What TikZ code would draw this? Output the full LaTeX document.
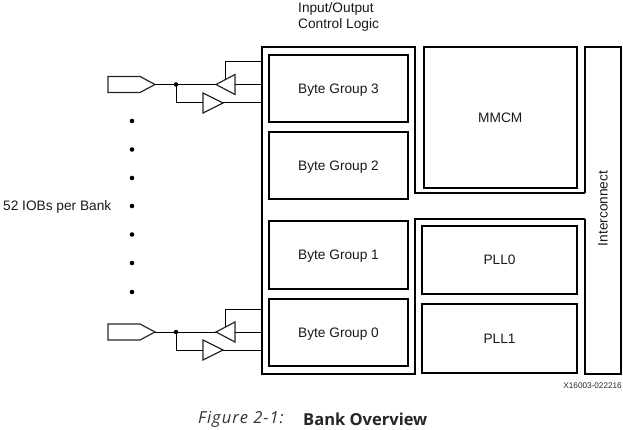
\documentclass[tikz,border=0pt]{standalone}
\usepackage{fontspec}
\setmainfont{Liberation Sans}
\newfontfamily\capfont{Open Sans}
\newfontfamily\figfont[LetterSpace=6]{Open Sans}
\tikzset{
  x=1pt,y=-1pt,
  block/.style={draw,line width=2pt,line join=miter,outer sep=0pt},
  wire/.style={draw,line width=1pt},
  thinshape/.style={draw=black!85,line width=1.2pt,line join=miter},
  lab/.style={font=\fontsize{13.7pt}{16pt}\selectfont,text=black!90,inner sep=0pt},
  blab/.style={lab,text height=9.9pt,text depth=0pt},
  dotn/.style={circle,fill=black,inner sep=0pt,minimum size=4.5pt},
  bigdot/.style={circle,fill=black,inner sep=0pt,minimum size=4.6pt}
}
\newcommand{\iob}[3]{% prefix, y-centre, lower-buffer y
  \coordinate (#1pad) at (155,#2);
  \coordinate (#1j) at (176,#2);
  \coordinate (#1rt) at (216,#2);
  \coordinate (#1rb) at (235,#2);
  \coordinate (#1tt) at (223,#3);
  \coordinate (#1tb) at (203,#3);
  \coordinate (#1up) at (225,#2-22.5);
  \coordinate (#1frameA) at (262,#2-22.5);
  \coordinate (#1frameB) at (262,#2);
  \coordinate (#1frameC) at (262,#3);
  \draw[thinshape] (108,#2-8) -- (140,#2-8) -- (#1pad) -- (140,#2+8) -- (108,#2+8) -- cycle;
  \draw[thinshape] (#1rt) -- (235,#2-10) -- (235,#2+10) -- cycle;
  \draw[thinshape] (#1tb) ++(0,-10) -- (#1tt) -- (203,#3+10) -- cycle;
  \draw[wire] (#1pad) -- (#1rt);
  \draw[wire] (#1rb) -- (#1frameB);
  \draw[wire] (#1tt) -- (#1frameC);
  \draw[wire] (#1j) |- (#1tb);
  \draw[wire] (225,#2-5.5) -- (#1up) -- (#1frameA);
  \node[dotn] (#1dot) at (#1j) {};
}
\begin{document}
\begin{tikzpicture}
\useasboundingbox (0,0) rectangle (623,430);
\iob{a}{84.5}{103}
\iob{b}{332}{350}
\draw[block] (415,193) -- (415,47.5) -- (262,47.5) -- (262,374) -- (415,374) -- (415,219) -- (585,219);
\draw[block] (414,193) -- (585,193);
\node[block,blab,minimum width=139pt,minimum height=67pt,anchor=north west] (bg3) at (269,55) {Byte Group 3};
\node[block,blab,minimum width=139pt,minimum height=67pt,anchor=north west] (bg2) at (269,132) {Byte Group 2};
\node[block,blab,minimum width=139pt,minimum height=68pt,anchor=north west] (bg1) at (269,221) {Byte Group 1};
\node[block,blab,minimum width=139pt,minimum height=67.5pt,anchor=north west] (bg0) at (269,298.5) {Byte Group 0};
\node[block,blab,minimum width=152.5pt,minimum height=141pt,anchor=north west] (mmcm) at (424,47) {MMCM};
\node[block,blab,minimum width=155pt,minimum height=68pt,anchor=north west] (pll0) at (422,226) {PLL0};
\node[block,blab,minimum width=155pt,minimum height=69pt,anchor=north west] (pll1) at (422,304) {PLL1};
\draw[block] (585,193) -- (585,47.5) -- (621,47.5) -- (621,374) -- (585,374) -- (585,219);
\coordinate (ic) at (603,208.5);
\node[lab,rotate=90] (ict) at (ic) {Interconnect};
\node[lab,align=left,anchor=north west] (iol) at (298,2) {Input/Output\\Control Logic};
\node[lab,anchor=west] (iobs) at (3,207) {52 IOBs per Bank};
\foreach \n/\y in {1/121,2/149.5,3/178,4/206,5/234.5,6/263,7/292}{\node[bigdot] (d\n) at (132,\y) {};}
\node[font=\fontsize{8.2pt}{10pt}\selectfont,inner sep=0pt,anchor=east,text=black!85] (fid) at (622,386) {X16003-022216};
\node[font=\figfont\fontsize{16.5pt}{20pt}\selectfont\itshape,inner sep=0pt,anchor=west,text=black!80] (figl) at (198,419.5) {Figure 2-1:};
\node[font=\capfont\fontsize{16.5pt}{20pt}\selectfont\bfseries,inner sep=0pt,anchor=west,text=black!85] (figt) at (303,419.5) {Bank Overview};
\end{tikzpicture}
\end{document}
